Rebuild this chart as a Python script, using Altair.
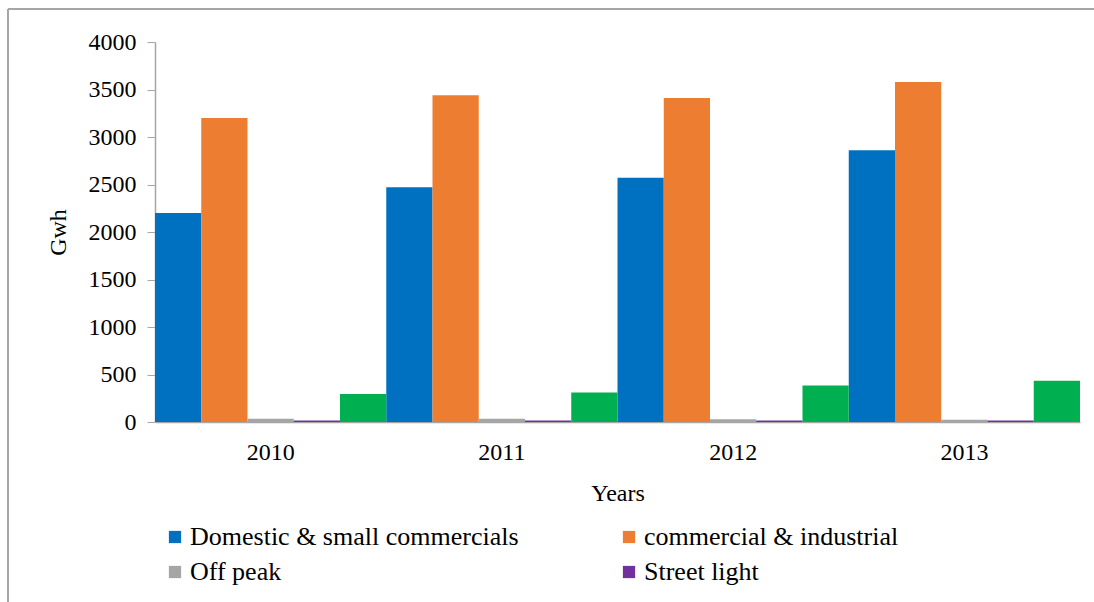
import altair as alt
import pandas as pd

years = ["2010", "2011", "2012", "2013"]
series = ["Domestic & small commercials", "commercial & industrial", "Off peak", "Street light", "Others"]
colors = ["#0070C0", "#ED7D31", "#A5A5A5", "#7030A0", "#00B050"]
domestic = [2200, 2470, 2570, 2860]
commercial = [3200, 3440, 3410, 3580]
off_peak = [35, 35, 30, 25]
street = [15, 15, 15, 15]
others = [295, 310, 385, 435]

rows = []
for name, vals in zip(series, [domestic, commercial, off_peak, street, others]):
    for y, v in zip(years, vals):
        rows.append({"Year": y, "Series": name, "Gwh": v})
df = pd.DataFrame(rows)

FONT = "Liberation Serif"

bars = alt.Chart(df).mark_bar().encode(
    x=alt.X("Year:N", title="Years",
            scale=alt.Scale(paddingInner=0, paddingOuter=0),
            axis=alt.Axis(labelAngle=0, ticks=False, domainColor="#A6A6A6", domainWidth=1.5,
                          labelPadding=18, titlePadding=17)),
    xOffset=alt.XOffset("Series:N", sort=series, scale=alt.Scale(paddingInner=0, paddingOuter=0)),
    y=alt.Y("Gwh:Q", title="Gwh", scale=alt.Scale(domain=[0, 4000], nice=False),
            axis=alt.Axis(values=list(range(0, 4001, 500)), grid=False, tickSize=8, format="d",
                          tickColor="#A6A6A6", domainColor="#A6A6A6", domainWidth=1.5,
                          labelPadding=11, titlePadding=18)),
    color=alt.Color("Series:N", sort=series,
                    scale=alt.Scale(domain=series, range=colors),
                    legend=alt.Legend(values=series[:4], title=None, orient="none",
                                      direction="horizontal",
                                      legendX=7, legendY=482, columns=2, columnPadding=97,
                                      rowPadding=9, symbolType="square", symbolSize=150,
                                      symbolStrokeWidth=0, labelFontSize=26, labelFont=FONT,
                                      labelColor="black",
                                      labelLimit=600, labelOffset=2)),
)

frame_left = alt.Chart(df).mark_rule(color="#A6A6A6", strokeWidth=1.5).encode(
    x=alt.value(-147), y=alt.value(-33), y2=alt.value(570))
frame_top = alt.Chart(df).mark_rule(color="#A6A6A6", strokeWidth=1.5).encode(
    x=alt.value(-147), x2=alt.value(950), y=alt.value(-33))

chart = alt.layer(bars, frame_left, frame_top).properties(
    width=925, height=380,
    autosize=alt.AutoSizeParams(type="none"),
    padding={"left": 155, "top": 42, "right": 14, "bottom": 180},
).configure_axis(
    labelFont=FONT, titleFont=FONT, labelFontSize=24, titleFontSize=24,
    labelColor="black", titleColor="black", titleFontWeight="normal",
).configure_view(stroke=None)

chart.save("out.html", embed_options={"renderer": "svg", "actions": False})
